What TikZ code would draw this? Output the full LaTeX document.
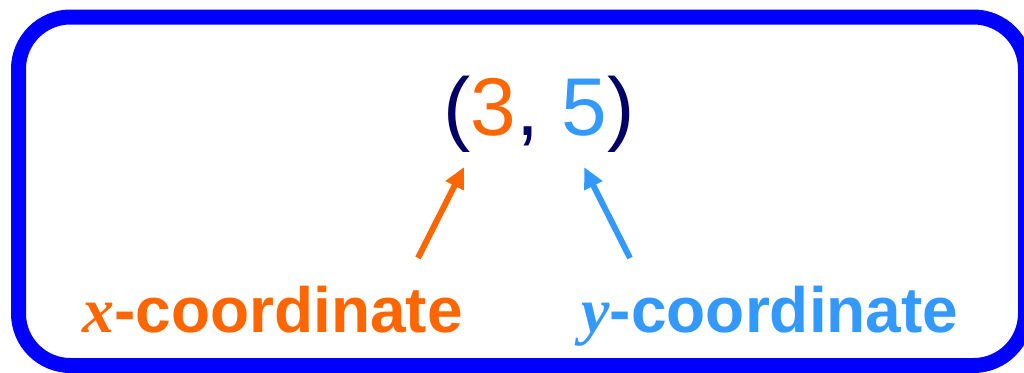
\documentclass[tikz,border=0pt]{standalone}
\usepackage{fontspec}
\setmainfont{Liberation Sans}
\newfontfamily\serifbi{Liberation Serif}[BoldItalicFont={* Bold Italic}]
\usetikzlibrary{arrows.meta}
\definecolor{xorange}{HTML}{FF6600}
\definecolor{yblue}{HTML}{3399FF}
\definecolor{navy}{HTML}{000066}
\definecolor{frameblue}{HTML}{0000FF}
\tikzset{
  frame/.style={draw=frameblue, line width=15pt, rounded corners=52pt},
  pair/.style={inner sep=0pt, anchor=base, font=\fontsize{82}{82}\selectfont, text=navy},
  lbl/.style={inner sep=0pt, anchor=base, font=\fontsize{64}{64}\selectfont\bfseries},
  pointer/.style={line width=6pt, -{Triangle[length=21pt,width=19pt]}},
}
\begin{document}
\begin{tikzpicture}[x=1pt,y=-1pt]
\useasboundingbox (0,0) rectangle (1024,372);
\draw[frame] (18.5,17) rectangle (1025.5,365.5);
\node[pair] (pt) at (539,135) {(\textcolor{xorange}{3}, \textcolor{yblue}{5})};
\node[lbl, text=xorange] (xl) at (272.5,332) {{\serifbi\bfseries\itshape x}-coordinate};
\node[lbl, text=yblue] (yl) at (770,332) {{\serifbi\bfseries\itshape y}-coordinate};
\coordinate (xs) at (418,258);
\coordinate (xt) at (464,167);
\coordinate (ys) at (630,258);
\coordinate (yt) at (584,167);
\draw[pointer, xorange] (xs) -- (xt);
\draw[pointer, yblue] (ys) -- (yt);
\end{tikzpicture}
\end{document}
